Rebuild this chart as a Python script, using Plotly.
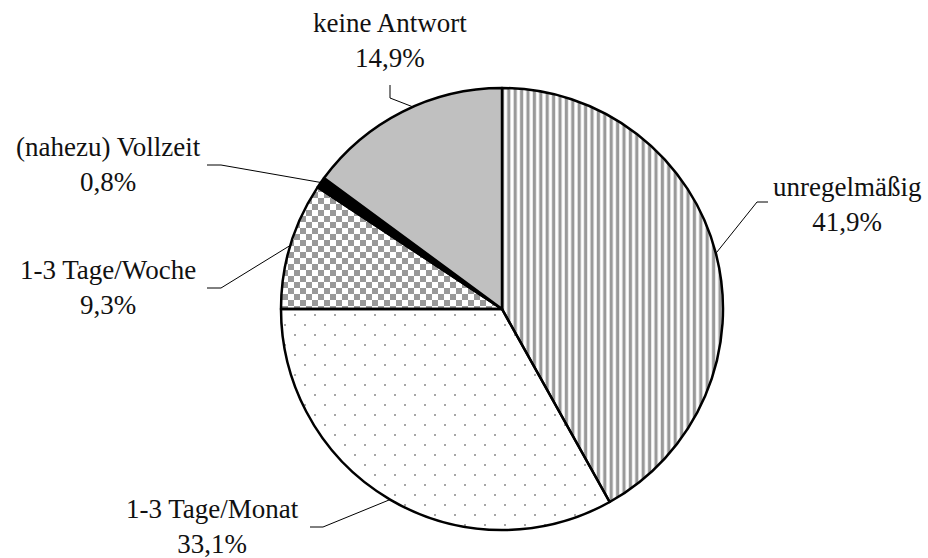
import math
import plotly.graph_objects as go

# ---- data ----
labels = ["unregelmäßig", "1-3 Tage/Monat", "1-3 Tage/Woche", "(nahezu) Vollzeit", "keine Antwort"]
values = [41.9, 33.1, 9.3, 0.8, 14.9]
value_text = ["41,9%", "33,1%", "9,3%", "0,8%", "14,9%"]

# ---- layout constants (screen pixels) ----
W, H = 928, 558
CX, CY, R = 502, 309, 221
FONT = "Liberation Serif"

# label centre, leader start, leader elbow (screen pixels)
label_layout = {
    "unregelmäßig": dict(xy=(847, 205), start=(768, 202), elbow=(757, 202)),
    "1-3 Tage/Monat": dict(xy=(212, 526), start=(310, 527), elbow=(323, 527)),
    "1-3 Tage/Woche": dict(xy=(108, 287), start=(207, 288), elbow=(221, 288)),
    "(nahezu) Vollzeit": dict(xy=(108, 165), start=(207, 165), elbow=(221, 165)),
    "keine Antwort": dict(xy=(390, 40), start=(390, 85), elbow=(390, 98), dang=3),
}

# slice styles
styles = {
    "unregelmäßig": dict(color="white", shape="|", fg="#999999", size=6.4, sol=0.5),
    "1-3 Tage/Monat": dict(color="rgba(0,0,0,0)", path="M4,4h2v2h-2z M14,14h2v2h-2z", fg="#a6a6a6", size=20),
    "1-3 Tage/Woche": dict(color="rgba(0,0,0,0)", path="M0,0h6v6h-6z M6,6h6v6h-6z", fg="#999999", size=12),
    "(nahezu) Vollzeit": dict(color="black"),
    "keine Antwort": dict(color="#c0c0c0"),
}


def px(x):
    return x / W


def py(y):
    return 1 - y / H


fig = go.Figure()

# custom-pattern wedges underneath the pie (drawn on pixel-scaled axes)
total = sum(values)
cum = 0.0
for lab, val in zip(labels, values):
    a0 = cum / total * 360.0
    a1 = (cum + val) / total * 360.0
    cum += val
    st = styles[lab]
    if "path" not in st:
        continue
    n = max(4, int((a1 - a0) / 0.5))
    xs, ys = [CX], [CY]
    for k in range(n + 1):
        a = math.radians(a0 + (a1 - a0) * k / n)
        xs.append(CX + R * math.sin(a))
        ys.append(CY - R * math.cos(a))
    xs.append(CX)
    ys.append(CY)
    fig.add_trace(go.Scatter(
        x=xs, y=ys, mode="lines", fill="toself", line=dict(width=0),
        fillcolor="white",
        fillpattern=dict(path=st["path"], fgcolor=st["fg"], bgcolor="white",
                         size=st["size"], fillmode="replace"),
        hoverinfo="skip", showlegend=False,
    ))

fig.add_trace(go.Pie(
    labels=labels, values=values, sort=False, direction="clockwise", rotation=0,
    textinfo="none", hoverinfo="label+percent", showlegend=False,
    domain=dict(x=[px(CX - R), px(CX + R)], y=[py(CY + R), py(CY - R)]),
    marker=dict(
        colors=[styles[l]["color"] for l in labels],
        line=dict(color="black", width=2.5),
        pattern=dict(
            shape=[styles[l].get("shape", "") for l in labels],
            fgcolor=[styles[l].get("fg", "black") for l in labels],
            bgcolor=[styles[l]["color"] for l in labels],
            size=[styles[l].get("size", 8) for l in labels],
            solidity=[styles[l].get("sol", 0.5) for l in labels],
        ),
    ),
))

annotations = []
shapes = []
cum = 0.0
for lab, val, vt in zip(labels, values, value_text):
    mid = (cum + val / 2) / total * 360.0
    cum += val
    lay = label_layout[lab]
    ang = math.radians(mid + lay.get("dang", 0))
    ex = CX + R * math.sin(ang)
    ey = CY - R * math.cos(ang)
    (sx, sy), (bx, by) = lay["start"], lay["elbow"]
    shapes.append(dict(
        type="path", xref="paper", yref="paper",
        path=f"M{px(sx)},{py(sy)} L{px(bx)},{py(by)} L{px(ex)},{py(ey)}",
        line=dict(color="black", width=1),
    ))
    lx, ly = lay["xy"]
    annotations.append(dict(
        x=px(lx), y=py(ly), xref="paper", yref="paper", xanchor="center", yanchor="middle",
        text=f"{lab}<br>{vt}", showarrow=False, align="center",
        font=dict(family=FONT, size=27, color="#111111"),
    ))

fig.update_layout(
    width=W, height=H, margin=dict(l=0, r=0, t=0, b=0),
    paper_bgcolor="white", plot_bgcolor="rgba(0,0,0,0)",
    xaxis=dict(range=[0, W], visible=False, fixedrange=True, domain=[0, 1]),
    yaxis=dict(range=[H, 0], visible=False, fixedrange=True, domain=[0, 1]),
    annotations=annotations, shapes=shapes,
)

fig.write_html(
    "out.html",
    config={"displayModeBar": False},
    post_script="document.body.style.margin='0px';document.body.style.overflow='hidden';",
)
